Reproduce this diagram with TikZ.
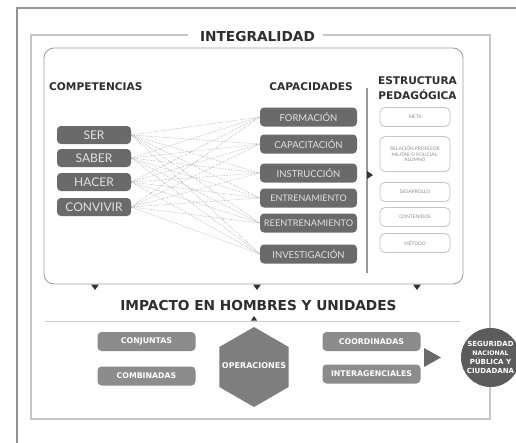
\documentclass[tikz,border=0pt]{standalone}
\usepackage{fontspec}
\setmainfont{Lato}
\newfontfamily\headfont{DejaVu Sans}
\usetikzlibrary{shapes.geometric}
\definecolor{boxdark}{HTML}{6A6A6A}
\definecolor{boxtxt}{HTML}{E2E2E2}
\definecolor{boxmid}{HTML}{8C8C8C}
\definecolor{hexcol}{HTML}{7E7E7E}
\definecolor{circcol}{HTML}{5C5C5C}
\definecolor{headtxt}{HTML}{2E2E2E}
\definecolor{linecol}{HTML}{A8A8A8}
\tikzset{
  headtext/.style={font=\headfont\bfseries\fontsize{10.6}{15}\selectfont, text=headtxt, inner sep=0pt, align=center},
  compbox/.style={fill=boxdark, rounded corners=4pt, minimum width=74pt, minimum height=18pt, inner sep=0pt, text=boxtxt, font=\fontsize{12}{13}\selectfont},
  capbox/.style={fill=boxdark, rounded corners=4pt, minimum width=97pt, minimum height=19pt, inner sep=0pt, text=boxtxt, font=\fontsize{9.5}{10}\selectfont},
  estbox/.style={draw=gray!45, line width=0.8pt, fill=white, rounded corners=5pt, minimum width=70pt, minimum height=19pt, inner sep=0pt, text=gray!90, font=\fontsize{4.8}{5.6}\selectfont, align=center},
  opbox/.style={fill=boxmid, rounded corners=4pt, minimum width=98pt, minimum height=19pt, inner sep=0pt, text=white, font=\headfont\bfseries\fontsize{7.8}{9}\selectfont},
  link/.style={densely dotted, draw=linecol, line width=0.55pt},
  tri/.style={fill=black!80},
}
\begin{document}
\begin{tikzpicture}[x=1pt,y=-1pt]
\useasboundingbox (0,0) rectangle (516,442);
\fill[white] (0,0) rectangle (516,442);

% outer frame
\draw[gray!85, line width=1.2pt] (17,450) -- (17,8) -- (530,8);

% title and middle frame
\node[headtext, font=\headfont\bfseries\fontsize{13.7}{15}\selectfont] (integ) at (257.5,37) {INTEGRALIDAD};
\draw[gray!45, line width=1.4pt] (188,35) -- (31,35) -- (31,419) -- (490,419) -- (490,35) -- (323,35);

% inner rounded box
\draw[gray!75, line width=0.9pt, rounded corners=10pt] (44,48) rectangle (463,284);

% headings
\node[headtext, anchor=west] (hcomp) at (49,87) {COMPETENCIAS};
\node[headtext, anchor=east] (hcap) at (353,87) {CAPACIDADES};
\node[headtext] (hest) at (417.5,88) {ESTRUCTURA\\PEDAGÓGICA};

% separator
\draw[gray!80, line width=1.4pt] (367,88) -- (367,273);
\fill[tri] (367,171) -- (373,175) -- (367,179) -- cycle;

% competencias
\node[compbox] (ser) at (94,135) {SER};
\node[compbox] (saber) at (94,158) {SABER};
\node[compbox] (hacer) at (94,182) {HACER};
\node[compbox] (conv) at (94,207) {CONVIVIR};

% capacidades
\node[capbox] (form) at (308.5,117) {FORMACIÓN};
\node[capbox] (capa) at (308.5,144) {CAPACITACIÓN};
\node[capbox] (inst) at (308.5,173) {INSTRUCCIÓN};
\node[capbox, font=\fontsize{9}{10}\selectfont] (entr) at (308.5,198) {ENTRENAMIENTO};
\node[capbox, font=\fontsize{9.2}{10}\selectfont] (reen) at (308.5,223) {REENTRENAMIENTO};
\node[capbox] (inve) at (308.5,254) {INVESTIGACIÓN};

% links
\foreach \a in {ser,saber,hacer,conv}{
  \foreach \b in {form,capa,inst,entr,reen,inve}{
    \draw[link] (\a.east) -- (\b.west);
  }
}

% estructura pedagógica
\node[estbox] (meta) at (415,117) {META};
\node[estbox, minimum height=35pt] (rel) at (415,154) {RELACIÓN PROFESOR\\MILITAR O POLICIAL-\\ALUMNO};
\node[estbox] (des) at (415,192) {DESARROLLO};
\node[estbox] (cont) at (415,217) {CONTENIDOS};
\node[estbox] (met) at (415,243) {MÉTODO};

% down triangles
\foreach \x in {95,257,417}{
  \fill[tri] (\x-4,284.5) -- (\x+4,284.5) -- (\x,290) -- cycle;
}

% impacto
\node[headtext, font=\headfont\bfseries\fontsize{13.7}{16}\selectfont] (imp) at (258.5,306) {IMPACTO EN HOMBRES Y UNIDADES};
\draw[gray!40, line width=1pt] (45,321) -- (460,321);
\fill[tri] (254,316) -- (257,320.5) -- (251,320.5) -- cycle;

% operaciones
\fill[hexcol] (254,327) -- (288.6,347) -- (288.6,387) -- (254,407) -- (219.4,387) -- (219.4,347) -- cycle;
\node[text=white, font=\headfont\bfseries\fontsize{8}{9}\selectfont, inner sep=0pt] (ops) at (254,366) {OPERACIONES};

\node[opbox] (conj) at (146.5,341.5) {CONJUNTAS};
\node[opbox] (comb) at (146.5,376) {COMBINADAS};
\node[opbox] (coor) at (371.5,341.5) {COORDINADAS};
\node[opbox] (inter) at (371.5,374) {INTERAGENCIALES};

% arrow to circle
\fill[boxdark] (424,348) -- (441,357.5) -- (424,367) -- cycle;

% circle
\node[circle, fill=circcol, minimum size=59pt, inner sep=0pt, text=white, align=center,
      font=\headfont\bfseries\fontsize{7}{9}\selectfont] (seg) at (490.5,357.5) {SEGURIDAD\\{\fontsize{6.2}{9}\selectfont NACIONAL}\\PÚBLICA Y\\CIUDADANA};
\end{tikzpicture}
\end{document}
